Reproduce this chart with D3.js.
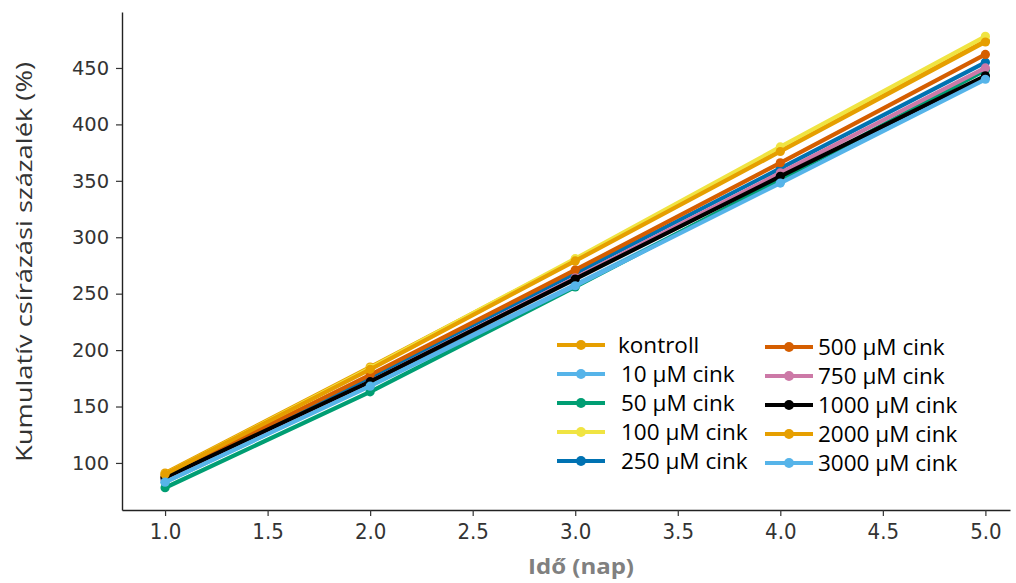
<!DOCTYPE html>
<html>
<head>
<meta charset="utf-8">
<script src="https://cdn.jsdelivr.net/npm/d3@7"></script>
<style>
  html, body { margin: 0; padding: 0; background: #fff; }
  svg { display: block; }
</style>
</head>
<body>
<svg id="chart" width="1016" height="583"></svg>
<script>
// Days of observation
const days = [1, 2, 3, 4, 5];

// Cumulative germination percentage per treatment
const seriesNames = ["kontroll", "10 µM cink", "50 µM cink", "100 µM cink", "250 µM cink",
                     "500 µM cink", "750 µM cink", "1000 µM cink", "2000 µM cink", "3000 µM cink"];
const kontroll = [91, 185, 280, 377, 474];
const zinc10   = [83, 169, 258, 349, 442];
const zinc50   = [78, 163, 256, 351, 448];
const zinc100  = [90, 184, 281, 380, 478];
const zinc250  = [86, 176, 268, 361, 455];
const zinc500  = [88, 178, 271, 366, 462];
const zinc750  = [85, 172, 264, 357, 450];
const zinc1000 = [87, 172, 263, 354, 443];
const zinc2000 = [90, 183, 279, 376, 473];
const zinc3000 = [83, 168, 257, 348, 440];
const seriesValues = [kontroll, zinc10, zinc50, zinc100, zinc250, zinc500, zinc750, zinc1000, zinc2000, zinc3000];
const seriesColors = ["#E69F00", "#56B4E9", "#009E73", "#F0E442", "#0072B2",
                      "#D55E00", "#CC79A7", "#000000", "#E69F00", "#56B4E9"];

// Axis ticks
const xTicks = [1.0, 1.5, 2.0, 2.5, 3.0, 3.5, 4.0, 4.5, 5.0];
const yTicks = [100, 150, 200, 250, 300, 350, 400, 450];

const svg = d3.select("#chart");

const x = d3.scaleLinear().domain([0.79, 5.12]).range([122, 1010]);
const y = d3.scaleLinear().domain([58.3, 499.6]).range([510, 12]);

// Axes
const xAxis = svg.append("g")
  .attr("transform", `translate(0,${y.range()[0]})`)
  .call(d3.axisBottom(x).tickValues(xTicks).tickFormat(d3.format(".1f")).tickSize(6).tickSizeOuter(0));
const yAxis = svg.append("g")
  .attr("transform", `translate(${x.range()[0]},0)`)
  .call(d3.axisLeft(y).tickValues(yTicks).tickFormat(d3.format("d")).tickSize(6).tickSizeOuter(0));

[xAxis, yAxis].forEach(g => {
  g.select(".domain").attr("stroke", "#222").attr("stroke-width", 1.4);
  g.selectAll(".tick line").attr("stroke", "#333").attr("stroke-width", 1.2);
  g.selectAll(".tick text").attr("fill", "#333");
});
xAxis.selectAll(".tick text")
  .attr("font-family", "'DejaVu Sans Condensed', 'DejaVu Sans', sans-serif")
  .attr("font-size", 22).attr("dy", "0.9em");
yAxis.selectAll(".tick text")
  .attr("font-family", "'DejaVu Sans', sans-serif")
  .attr("font-size", 19.5).attr("dx", "-0.2em");

// Axis titles
svg.append("text")
  .attr("x", 581).attr("y", 574)
  .attr("text-anchor", "middle")
  .attr("font-family", "'Open Sans', sans-serif")
  .attr("font-weight", "bold").attr("font-size", 22)
  .attr("fill", "#808080")
  .attr("textLength", 106).attr("lengthAdjust", "spacingAndGlyphs")
  .text("Idő (nap)");

svg.append("text")
  .attr("transform", "translate(32,262) rotate(-90)")
  .attr("text-anchor", "middle")
  .attr("font-family", "'Open Sans', sans-serif")
  .attr("font-size", 21.5)
  .attr("fill", "#333")
  .attr("textLength", 400).attr("lengthAdjust", "spacingAndGlyphs")
  .text("Kumulatív csírázási százalék (%)");

// Lines and markers
const line = d3.line().x((d, i) => x(days[i])).y(d => y(d));
const plot = svg.append("g");
seriesValues.forEach((vals, k) => {
  const g = plot.append("g");
  g.append("path")
    .attr("d", line(vals))
    .attr("fill", "none")
    .attr("stroke", seriesColors[k])
    .attr("stroke-width", 4.2)
    .attr("stroke-linejoin", "round");
  g.selectAll("circle").data(vals).join("circle")
    .attr("cx", (d, i) => x(days[i]))
    .attr("cy", d => y(d))
    .attr("r", 4.6)
    .attr("fill", seriesColors[k]);
});

// Legend in two columns of five
const legend = svg.append("g");
seriesNames.forEach((name, k) => {
  const col = Math.floor(k / 5), row = k % 5;
  const x0 = col === 0 ? 557 : 765;
  const yy = 345 + row * 29 + (col === 1 ? 2 : 0);
  const g = legend.append("g");
  g.append("line")
    .attr("x1", x0).attr("x2", x0 + 48)
    .attr("y1", yy).attr("y2", yy)
    .attr("stroke", seriesColors[k]).attr("stroke-width", 4);
  g.append("circle")
    .attr("cx", x0 + 24).attr("cy", yy).attr("r", 5)
    .attr("fill", seriesColors[k]);
  g.append("text")
    .attr("x", col === 0 ? (k === 0 ? 618 : 621) : 818)
    .attr("y", yy)
    .attr("dy", "0.36em")
    .attr("font-family", "'Open Sans', sans-serif")
    .attr("font-size", 22.5)
    .attr("fill", "#000")
    .text(name);
});
</script>
</body>
</html>
